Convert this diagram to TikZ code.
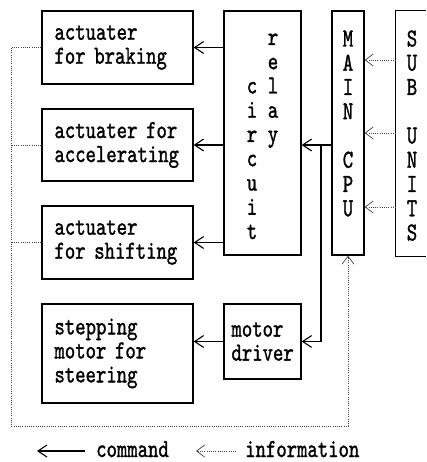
\documentclass[tikz,border=0pt]{standalone}
\usepackage{fontspec}
\usetikzlibrary{arrows.meta}
\newfontfamily\typewriter{lmmono10-regular.otf}[FakeStretch=0.76, FakeBold=1.2]

\begin{document}
\begin{tikzpicture}[x=1pt, y=-1pt, font=\typewriter\fontsize{26}{24}\selectfont,
  box/.style={draw, line width=1.3pt, inner sep=0pt, align=left},
  cmd/.style={line width=1.1pt, -{Straight Barb[length=9pt, width=12pt, line width=1.1pt]}},
  info/.style={line width=0.9pt, dash pattern=on 0.9pt off 1.3pt, black!75, -{Straight Barb[length=8pt, width=12pt, line width=0.7pt]}},
  loopline/.style={line width=0.9pt, dash pattern=on 0.9pt off 1.3pt, black!75},
  letter/.style={anchor=base, inner sep=0pt}]
\useasboundingbox (0,0) rectangle (426,462);

% actuators and the steering motor
\node[box, minimum width=151pt, minimum height=73pt, text width=126pt] (brake) at (117.5,47.5) {actuater\\for braking};
\node[box, minimum width=151pt, minimum height=72pt, text width=126pt] (accel) at (117.5,145) {actuater for\\accelerating};
\node[box, minimum width=151pt, minimum height=73pt, text width=126pt] (shift) at (117.5,242.5) {actuater\\for shifting};
\node[box, minimum width=151pt, minimum height=99pt, text width=126pt] (steer) at (117.5,353.5) {stepping\\motor for\\steering};

% relay circuit, main CPU, sub units (open to the right)
\node[box, minimum width=77pt, minimum height=244pt] (relay) at (262.5,133) {};
\node[box, minimum width=32pt, minimum height=244pt] (cpu) at (348,133) {};
\node[inner sep=0pt, minimum width=30pt, minimum height=245pt] (sub) at (411,133.5) {};
\draw[line width=1.3pt] (sub.north east) -- (sub.north west) -- (sub.south west) -- (sub.south east);
\node[box, minimum width=77pt, minimum height=75pt, text width=62pt] (driver) at (262.5,341.5) {motor\\driver};

\foreach \ch [count=\k from 0] in {r,e,l,a,y}
  \node[letter] (rl\k) at (273, 45+24.25*\k) {\ch};
\foreach \ch [count=\k from 2] in {c,i,r,c,u,i,t}
  \node[letter] (ci\k) at (252, 45+24.25*\k) {\ch};
\foreach \ch/\k in {M/0,A/1,I/2,N/3,C/5,P/6,U/7}
  \node[letter] (cp\k) at (348, 46.5+24.25*\k) {\ch};
\foreach \ch/\k in {S/0,U/1,B/2,U/4,N/5,I/6,T/7,S/8}
  \node[letter] (su\k) at (412, 46.5+24.25*\k) {\ch};

% commands
\draw[cmd] (relay.west |- brake.east) -- (brake.east);
\draw[cmd] (relay.west |- accel.east) -- (accel.east);
\draw[cmd] (relay.west |- shift.east) -- (shift.east);
\draw[cmd] (driver.west) -- (driver.west -| steer.east);
\coordinate (split) at (321,145);
\draw[cmd] (split -| cpu.west) -- (split -| relay.east);
\draw[cmd] (split -| cpu.west) -- (split) |- (driver.east);

% information
\foreach \y in {60,133,207}
  \draw[info] (sub.west |- 0,\y) -- (cpu.east |- 0,\y);
\coordinate (corner) at (11,426);
\draw[info] (brake.west) -| (corner) -| (cpu.south);
\draw[loopline] (accel.west) -- (accel.west -| corner);
\draw[loopline] (shift.west) -- (shift.west -| corner);

% legend
\coordinate (cmdtail) at (85,451);
\coordinate (cmdhead) at (37,451);
\draw[cmd] (cmdtail) -- (cmdhead);
\node[letter, anchor=base west] (cmdlabel) at (96,457) {command};
\coordinate (infotail) at (236,451);
\coordinate (infohead) at (196,451);
\draw[info] (infotail) -- (infohead);
\node[letter, anchor=base west] (infolabel) at (245,457) {information};
\end{tikzpicture}
\end{document}
